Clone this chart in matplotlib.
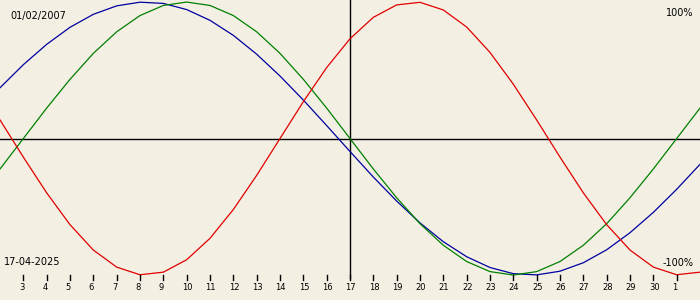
#!/usr/bin/env python3
"""Biorhythm chart: physical / emotional / intellectual cycles around 17-04-2025."""

import numpy as np
import matplotlib
matplotlib.use('Agg')
import matplotlib.pyplot as plt
import matplotlib.transforms as mtransforms

BIRTH = '01/02/2007'
TARGET = '17-04-2025'

# day offset from the target date, 02-04 .. 02-05
days = list(range(-15, 16))
tick_days = list(range(-14, 15))
tick_labels = [str(d) for d in range(3, 31)] + ['1']

physical = [0.136, -0.136, -0.398, -0.631, -0.817, -0.942, -0.998, -0.979, -0.888, -0.731,
            -0.520, -0.270, 0.0, 0.270, 0.520, 0.731, 0.888, 0.979, 0.998, 0.942,
            0.817, 0.631, 0.398, 0.136, -0.136, -0.398, -0.631, -0.817, -0.942, -0.998, -0.979]
emotional = [-0.223, 0.0, 0.223, 0.434, 0.624, 0.782, 0.901, 0.975, 1.0, 0.975,
             0.901, 0.782, 0.624, 0.434, 0.223, 0.0, -0.223, -0.434, -0.624, -0.782,
             -0.901, -0.975, -1.0, -0.975, -0.901, -0.782, -0.624, -0.434, -0.223, 0.0, 0.223]
intellectual = [0.372, 0.541, 0.690, 0.815, 0.910, 0.972, 0.999, 0.990, 0.945, 0.866,
                0.756, 0.618, 0.458, 0.282, 0.095, -0.095, -0.282, -0.458, -0.618, -0.756,
                -0.866, -0.945, -0.990, -0.999, -0.972, -0.910, -0.815, -0.690, -0.541, -0.372, -0.189]

BG = '#f3efe3'

fig = plt.figure(figsize=(7, 3), dpi=100, facecolor=BG)
ax = fig.add_axes([0, 0, 1, 1], facecolor=BG)
ax.set_xlim(-15, 15)
ax.set_ylim(-1.183, 1.015)
ax.axis('off')

ax.axhline(0, color='black', lw=1)
ax.plot([0, 0], [0.0733, 1.0], color='black', lw=1, transform=ax.get_xaxis_transform())

ax.plot(days, intellectual, color='#0000a0', lw=0.9)
ax.plot(days, emotional, color='#008000', lw=0.9)
ax.plot(days, physical, color='#e00000', lw=0.9)

# day ticks along the bottom
xt = ax.get_xaxis_transform()
for d, lab in zip(tick_days, tick_labels):
    ax.plot([d, d], [0.0667, 0.0833], color='black', lw=1, transform=xt)
    ax.text(d, 0.04, lab, fontsize=6, ha='left', va='center',
            transform=mtransforms.offset_copy(xt, fig, x=-4.5, y=0, units='dots'))

ax.text(10, 300 - 16.5, BIRTH, fontsize=7, ha='left', va='center', transform=None)
ax.text(693, 300 - 13, '100%', fontsize=7, ha='right', va='center', transform=None)
ax.text(4, 300 - 262, TARGET, fontsize=7, ha='left', va='center', transform=None)
ax.text(694, 300 - 263, '-100%', fontsize=7, ha='right', va='center', transform=None)

fig.savefig('out.png', dpi=100, facecolor=BG)
